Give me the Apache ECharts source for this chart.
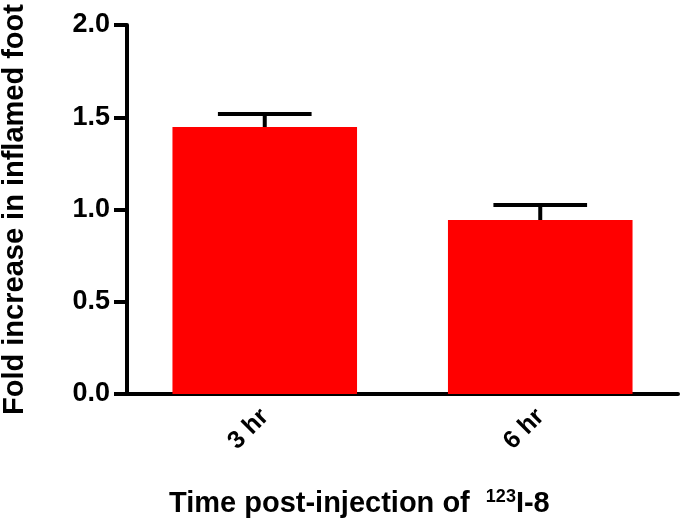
<!DOCTYPE html>
<html>
<head>
<meta charset="utf-8">
<script src="https://cdn.jsdelivr.net/npm/echarts@6/dist/echarts.min.js"></script>
<style>
  html, body { margin: 0; padding: 0; background: #fff; }
  #chart { width: 680px; height: 521px; }
</style>
</head>
<body>
<div id="chart"></div>
<script>
// data
const categories = ["3 hr", "6 hr"];
const means = [1.447, 0.943];
const errUpper = [0.071, 0.081]; // SEM, upper bar only
const yTicks = [0, 0.5, 1.0, 1.5, 2.0];

const chart = echarts.init(document.getElementById("chart"));
const font = "Liberation Sans, Arial, sans-serif";

const errData = categories.map((c, i) => [i, means[i], means[i] + errUpper[i]]);

chart.setOption({
  animation: false,
  title: {
    text: "{a|Time post-injection of  }{s|123}{a|I-8}",
    left: 164,
    top: 483,
    textStyle: {
      rich: {
        a: { fontFamily: font, fontWeight: "bold", fontSize: 29, color: "#000" },
        s: { fontFamily: font, fontWeight: "bold", fontSize: 18, color: "#000", verticalAlign: "top", padding: [0, 0, 14, 0] }
      }
    }
  },
  grid: { left: 127, right: 2, top: 25, bottom: 127, containLabel: false, outerBoundsMode: "none" },
  xAxis: {
    type: "category",
    data: categories,
    axisLine: { lineStyle: { color: "#000", width: 4 } },
    axisTick: { alignWithLabel: true, length: 11, lineStyle: { width: 4, color: "#000" } },
    axisLabel: {
      rotate: 45,
      margin: 19,
      color: "#000",
      fontFamily: font,
      fontWeight: "bold",
      fontSize: 25
    }
  },
  yAxis: {
    type: "value",
    min: 0,
    max: 2,
    interval: 0.5,
    name: "Fold increase in inflamed foot",
    nameLocation: "middle",
    nameGap: 98,
    nameTextStyle: { fontFamily: font, fontWeight: "bold", fontSize: 29, color: "#000" },
    splitLine: { show: false },
    axisLine: { show: true, lineStyle: { color: "#000", width: 4 } },
    axisTick: { show: true, length: 13, lineStyle: { width: 4, color: "#000" } },
    axisLabel: {
      margin: 17,
      color: "#000",
      fontFamily: font,
      fontWeight: "bold",
      fontSize: 27,
      formatter: v => (yTicks.includes(v) ? v.toFixed(1) : "")
    }
  },
  series: [
    {
      type: "bar",
      data: means,
      barWidth: "67%",
      itemStyle: { color: "#ff0000" },
      z: 2
    },
    {
      type: "custom",
      data: errData,
      z: 3,
      renderItem: (params, api) => {
        const base = api.coord([api.value(0), api.value(1)]);
        const top = api.coord([api.value(0), api.value(2)]);
        const half = api.size([1, 0])[0] * 0.17;
        const st = { stroke: "#000", lineWidth: 4 };
        return {
          type: "group",
          children: [
            { type: "line", shape: { x1: base[0], y1: base[1], x2: top[0], y2: top[1] }, style: st },
            { type: "line", shape: { x1: top[0] - half, y1: top[1], x2: top[0] + half, y2: top[1] }, style: st }
          ]
        };
      }
    }
  ]
});
</script>
</body>
</html>
